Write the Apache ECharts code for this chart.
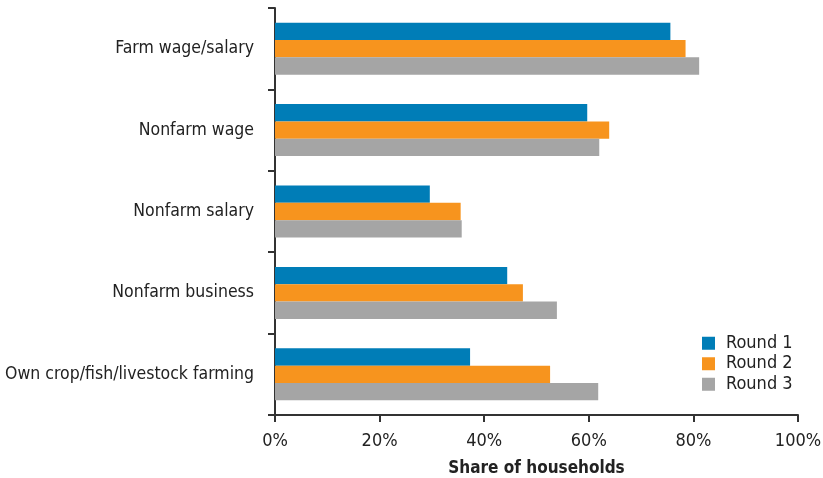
<!DOCTYPE html>
<html>
<head>
<meta charset="utf-8">
<script src="https://cdn.jsdelivr.net/npm/echarts@6/dist/echarts.min.js"></script>
<style>
  html, body { margin: 0; padding: 0; background: #fff; }
  #chart { width: 823px; height: 478px; }
</style>
</head>
<body>
<div id="chart"></div>
<script>
// Income sources, share of households reporting each (percent)
const categories = [
  'Farm wage/salary',
  'Nonfarm wage',
  'Nonfarm salary',
  'Nonfarm business',
  'Own crop/fish/livestock farming'
];
const round1 = [75.6, 59.7, 29.6, 44.4, 37.3];
const round2 = [78.5, 63.9, 35.5, 47.4, 52.6];
const round3 = [81.1, 62.0, 35.7, 53.9, 61.8];
const seriesNames = ['Round 1', 'Round 2', 'Round 3'];
const xTicks = [0, 20, 40, 60, 80, 100];

const FONT = '"Liberation Sans Narrow", "DejaVu Sans Condensed", "Liberation Sans", sans-serif';
const colors = ['#007db7', '#f7941e', '#a5a5a5'];

const chart = echarts.init(document.getElementById('chart'), null, { renderer: 'canvas' });

chart.setOption({
  animation: false,
  textStyle: { fontFamily: FONT },
  color: colors,
  grid: { left: 275, right: 25, top: 8, bottom: 63, containLabel: false, outerBoundsMode: 'none' },
  legend: {
    orient: 'vertical',
    left: 702,
    top: 333,
    padding: 0,
    itemWidth: 13,
    itemHeight: 13,
    itemGap: 0,
    icon: 'rect',
    textStyle: { fontFamily: FONT, fontSize: 18, lineHeight: 20.5, color: '#222', padding: [0, 0, 0, 6] },
    data: seriesNames
  },
  xAxis: {
    type: 'value',
    min: xTicks[0],
    max: xTicks[xTicks.length - 1],
    interval: 20,
    axisLine: { show: true, lineStyle: { color: '#333', width: 2 } },
    axisTick: { show: true, length: 7, lineStyle: { color: '#333', width: 2 } },
    splitLine: { show: false },
    axisLabel: {
      formatter: '{value}%',
      fontFamily: FONT, fontSize: 18, color: '#222', margin: 17
    },
    name: 'Share of households',
    nameLocation: 'middle',
    nameGap: 45,
    nameTextStyle: { fontFamily: FONT, fontSize: 17, fontWeight: 'bold', color: '#222' }
  },
  yAxis: {
    type: 'category',
    data: categories,
    inverse: true,
    axisLine: { show: true, lineStyle: { color: '#333', width: 2 } },
    axisTick: { show: true, length: 7, lineStyle: { color: '#333', width: 2 } },
    axisLabel: { fontFamily: FONT, fontSize: 17.5, color: '#222', margin: 21 }
  },
  series: [
    { name: seriesNames[0], type: 'bar', data: round1, barWidth: '21.3%', barGap: '0%', barCategoryGap: '36%' },
    { name: seriesNames[1], type: 'bar', data: round2, barWidth: '21.3%', barGap: '0%' },
    { name: seriesNames[2], type: 'bar', data: round3, barWidth: '21.3%', barGap: '0%' }
  ]
});
</script>
</body>
</html>
